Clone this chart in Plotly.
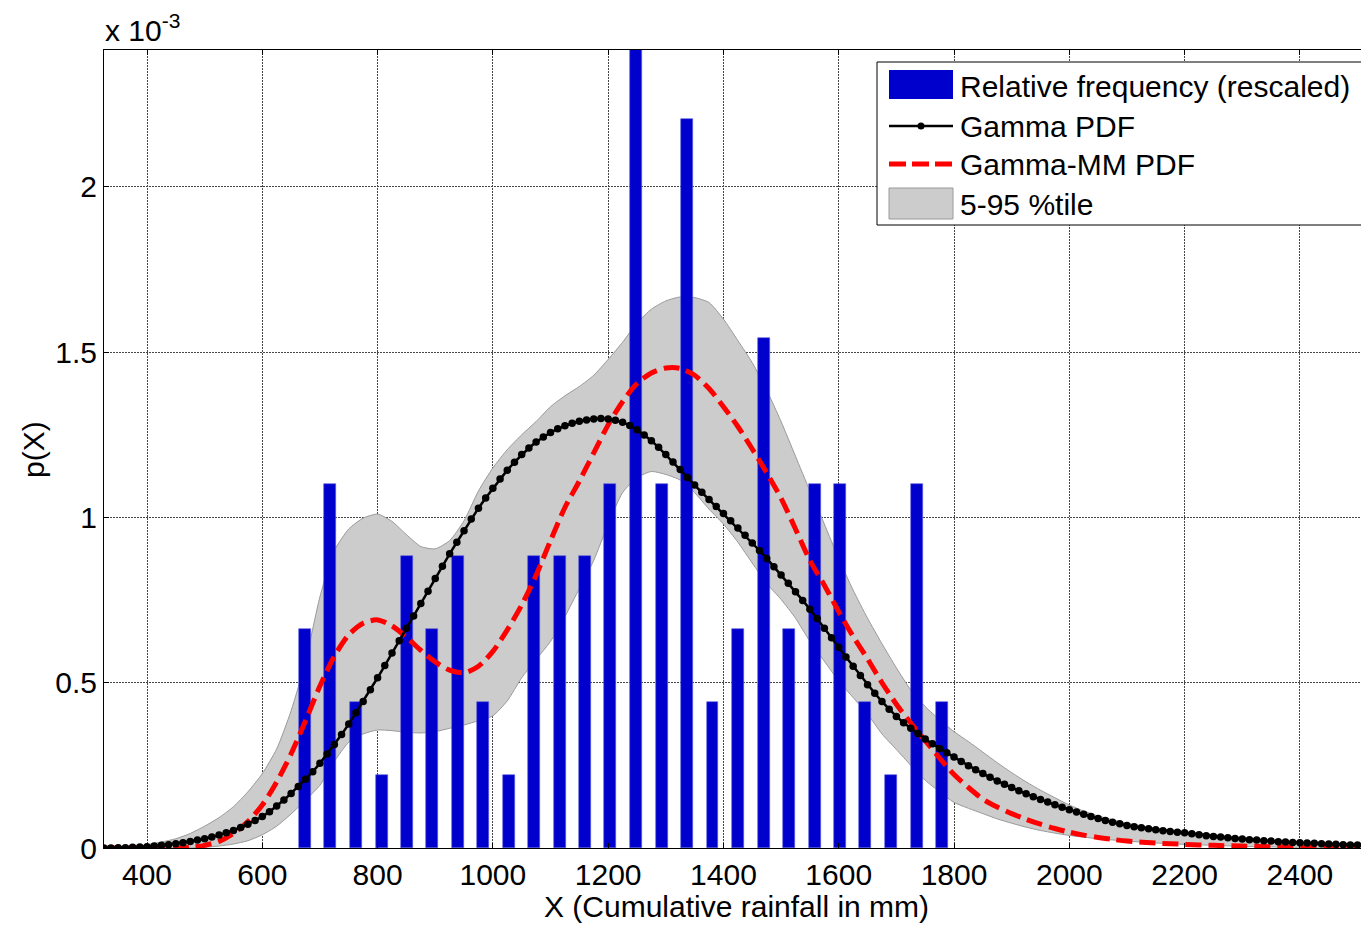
import plotly.graph_objects as go

# ---------------- data (values in units of 10^-3) ----------------
bar_x = [674, 718, 762, 807, 851, 895, 939, 983, 1028, 1072, 1116, 1160, 1204,
         1249, 1293, 1337, 1381, 1425, 1470, 1514, 1558, 1602, 1646, 1691, 1735, 1779]
bar_counts = [3, 5, 2, 1, 4, 3, 4, 2, 1, 4, 4, 4, 5, 11, 5, 10, 2, 3, 7, 3, 5, 5, 2, 1, 5, 2]
bar_unit = 0.2205  # rescaled relative frequency of one observation (x 10^-3)
bar_heights = [c * bar_unit for c in bar_counts]

gamma_x = [325 + 12.5 * i for i in range(175)]
gamma_y = [
    0.000, 0.000, 0.001, 0.001, 0.002, 0.003, 0.004, 0.006, 0.008, 0.010,
    0.013, 0.016, 0.020, 0.024, 0.028, 0.033, 0.039, 0.046, 0.053, 0.062,
    0.072, 0.083, 0.095, 0.110, 0.127, 0.145, 0.165, 0.186, 0.208, 0.231,
    0.256, 0.284, 0.313, 0.343, 0.375, 0.409, 0.443, 0.479, 0.515, 0.552,
    0.590, 0.627, 0.665, 0.702, 0.740, 0.777, 0.815, 0.852, 0.890, 0.925,
    0.960, 0.995, 1.028, 1.059, 1.088, 1.116, 1.143, 1.167, 1.190, 1.210,
    1.228, 1.243, 1.257, 1.268, 1.277, 1.285, 1.291, 1.295, 1.298, 1.299,
    1.298, 1.294, 1.288, 1.278, 1.265, 1.249, 1.232, 1.212, 1.190, 1.168,
    1.145, 1.121, 1.098, 1.076, 1.054, 1.033, 1.012, 0.990, 0.968, 0.946,
    0.923, 0.900, 0.876, 0.851, 0.826, 0.801, 0.775, 0.749, 0.722, 0.694,
    0.665, 0.636, 0.607, 0.578, 0.550, 0.522, 0.494, 0.468, 0.443, 0.420,
    0.398, 0.379, 0.362, 0.346, 0.330, 0.315, 0.301, 0.288, 0.275, 0.262,
    0.249, 0.237, 0.225, 0.214, 0.203, 0.193, 0.183, 0.173, 0.164, 0.155,
    0.147, 0.139, 0.131, 0.123, 0.116, 0.109, 0.102, 0.095, 0.089, 0.083,
    0.078, 0.073, 0.068, 0.064, 0.061, 0.058, 0.055, 0.052, 0.050, 0.048,
    0.046, 0.043, 0.040, 0.037, 0.035, 0.033, 0.031, 0.029, 0.027, 0.025,
    0.024, 0.022, 0.021, 0.019, 0.018, 0.017, 0.016, 0.015, 0.014, 0.013,
    0.012, 0.011, 0.010, 0.009, 0.009,
]

mm_x = [325, 350, 375, 400, 425, 450, 475, 500, 525, 550, 575, 600, 625, 650, 675,
        700, 725, 750, 775, 800, 825, 850, 875, 900, 925, 950, 975, 1000, 1025,
        1050, 1075, 1100, 1125, 1150, 1175, 1200, 1225, 1250, 1275, 1300, 1325,
        1350, 1375, 1400, 1425, 1450, 1475, 1500, 1525, 1550, 1575, 1600, 1625,
        1650, 1675, 1700, 1725, 1750, 1775, 1800, 1825, 1850, 1875, 1900, 1925,
        1950, 1975, 2000, 2025, 2050, 2075, 2100, 2150, 2200, 2250, 2300, 2350,
        2400, 2450, 2500]
mm_y = [0.000, 0.000, 0.000, 0.000, 0.000, 0.000, 0.002, 0.008, 0.020, 0.044,
        0.080, 0.130, 0.200, 0.285, 0.385, 0.490, 0.580, 0.645, 0.680, 0.690,
        0.672, 0.638, 0.598, 0.563, 0.538, 0.530, 0.550, 0.595, 0.660, 0.735,
        0.825, 0.930, 1.030, 1.110, 1.195, 1.280, 1.350, 1.405, 1.437, 1.452,
        1.451, 1.430, 1.390, 1.335, 1.275, 1.207, 1.135, 1.058, 0.965, 0.870,
        0.795, 0.715, 0.640, 0.572, 0.500, 0.435, 0.378, 0.325, 0.272, 0.222,
        0.183, 0.148, 0.124, 0.104, 0.087, 0.072, 0.059, 0.048, 0.039, 0.032,
        0.026, 0.021, 0.015, 0.011, 0.008, 0.006, 0.004, 0.003, 0.002, 0.001]

p95_x = [325, 350, 375, 400, 425, 450, 475, 500, 525, 550, 575, 600, 625, 650, 675,
         700, 725, 750, 775, 800, 825, 850, 875, 900, 925, 950, 975, 1000, 1025,
         1050, 1075, 1100, 1125, 1150, 1175, 1200, 1225, 1250, 1275, 1300, 1325,
         1350, 1375, 1400, 1425, 1450, 1475, 1500, 1525, 1550, 1575, 1600, 1625,
         1650, 1675, 1700, 1725, 1750, 1775, 1800, 1825, 1850, 1875, 1900, 1925,
         1950, 1975, 2000, 2025, 2050, 2100, 2150, 2200, 2250, 2300, 2350, 2400,
         2450, 2500]
p95_y = [0.000, 0.000, 0.003, 0.010, 0.018, 0.028, 0.044, 0.066, 0.092, 0.125,
         0.170, 0.225, 0.300, 0.415, 0.565, 0.760, 0.900, 0.965, 0.998, 1.010,
         0.988, 0.948, 0.912, 0.905, 0.930, 0.990, 1.080, 1.150, 1.205, 1.250,
         1.290, 1.335, 1.368, 1.396, 1.430, 1.478, 1.530, 1.588, 1.630, 1.655,
         1.667, 1.665, 1.650, 1.600, 1.535, 1.468, 1.385, 1.290, 1.185, 1.080,
         0.980, 0.875, 0.780, 0.695, 0.618, 0.545, 0.478, 0.428, 0.388, 0.352,
         0.322, 0.290, 0.258, 0.228, 0.200, 0.175, 0.152, 0.130, 0.112, 0.097,
         0.075, 0.060, 0.049, 0.040, 0.031, 0.022, 0.016, 0.012, 0.009]

p05_x = [325, 450, 475, 500, 525, 550, 575, 600, 625, 650, 675, 700, 725, 750, 775,
         800, 825, 850, 875, 900, 925, 950, 975, 1000, 1025, 1050, 1075, 1100,
         1125, 1150, 1175, 1200, 1225, 1250, 1275, 1300, 1325, 1350, 1375, 1400,
         1425, 1450, 1475, 1500, 1525, 1550, 1575, 1600, 1625, 1650, 1675, 1700,
         1725, 1750, 1775, 1800, 1825, 1850, 1875, 1900, 1925, 1950, 1975, 2000,
         2050, 2100, 2150, 2200, 2250, 2300, 2400, 2500]
p05_y = [0.000, 0.000, 0.000, 0.002, 0.006, 0.012, 0.022, 0.040, 0.066, 0.103,
         0.145, 0.190, 0.262, 0.320, 0.345, 0.357, 0.355, 0.350, 0.348, 0.352,
         0.362, 0.372, 0.385, 0.400, 0.445, 0.515, 0.570, 0.625, 0.700, 0.785,
         0.870, 0.980, 1.075, 1.120, 1.139, 1.130, 1.113, 1.075, 1.025, 0.980,
         0.925, 0.862, 0.800, 0.752, 0.695, 0.625, 0.565, 0.505, 0.455, 0.405,
         0.345, 0.298, 0.250, 0.205, 0.170, 0.138, 0.120, 0.104, 0.088, 0.075,
         0.063, 0.053, 0.045, 0.038, 0.028, 0.021, 0.015, 0.011, 0.008, 0.005,
         0.002, 0.001]

x_ticks = [400, 600, 800, 1000, 1200, 1400, 1600, 1800, 2000, 2200, 2400]
y_ticks = [0, 0.5, 1, 1.5, 2]
y_ticktext = ["0", "0.5", "1", "1.5", "2"]

legend_labels = ["Relative frequency (rescaled)", "Gamma PDF", "Gamma-MM PDF", "5-95 %tile"]

# ---------------- styling ----------------
FONT = "Arial, Liberation Sans, sans-serif"
FS = 30
BLUE = "#0000CC"
GRAY = "#CCCCCC"
XR = [325.4, 2506]
YR = [0, 2.414]

fig = go.Figure()

# band on the base axes (drawn underneath everything else)
fig.add_trace(go.Scatter(
    x=p95_x + p05_x[::-1], y=p95_y + p05_y[::-1],
    fill="toself", fillcolor=GRAY, mode="lines",
    line=dict(color="#9a9a9a", width=1, shape="spline", smoothing=0.6),
    showlegend=False, hoverinfo="skip", xaxis="x", yaxis="y"))

# bars and curves on overlaying axes so they sit above the band
fig.add_trace(go.Bar(
    x=bar_x, y=bar_heights, width=20.8,
    marker=dict(color=BLUE, line=dict(color="#5a5ae0", width=0.6)),
    showlegend=False, xaxis="x2", yaxis="y2"))

fig.add_trace(go.Scatter(
    x=mm_x, y=mm_y, mode="lines",
    line=dict(color="#FF0000", width=5, dash="16px,7px", shape="spline", smoothing=0.8),
    showlegend=False, xaxis="x2", yaxis="y2"))

fig.add_trace(go.Scatter(
    x=gamma_x, y=gamma_y, mode="lines+markers",
    line=dict(color="black", width=2.5),
    marker=dict(color="black", size=7.5, line=dict(width=0)),
    showlegend=False, xaxis="x2", yaxis="y2"))

# ---------------- layout ----------------
L, R, T, B = 104, 0, 50, 77
W, H = 1361, 925
pw, ph = W - L - R, H - T - B

def px_x(px):
    return (px - L) / pw

def px_y(py):
    return (H - B - py) / ph

grid = dict(showgrid=True, gridcolor="#474747", gridwidth=1, griddash="2px,1px")

fig.update_layout(
    width=W, height=H,
    margin=dict(l=L, r=R, t=T, b=B, pad=0),
    paper_bgcolor="white", plot_bgcolor="white",
    font=dict(family=FONT, size=FS, color="black"),
    bargap=0,
    xaxis=dict(range=XR, tickvals=x_ticks, ticks="inside", ticklen=5,
               tickcolor="black", showline=True, linecolor="black", linewidth=1,
               zeroline=False, tickfont=dict(size=FS), **grid),
    xaxis2=dict(range=XR, overlaying="x", side="top", tickvals=x_ticks,
                ticks="inside", ticklen=5, tickcolor="black", showticklabels=False,
                showgrid=False, zeroline=False, showline=True, linecolor="black",
                linewidth=1),
    yaxis=dict(range=YR, tickvals=y_ticks, ticktext=y_ticktext, ticks="inside",
               ticklen=5, tickcolor="black", showline=True, linecolor="black",
               linewidth=1, zeroline=False, tickfont=dict(size=FS), **grid),
    yaxis2=dict(range=YR, overlaying="y", side="right", showticklabels=False,
                ticks="", showgrid=False, zeroline=False, showline=False),
)

# axis titles / exponent label
fig.add_annotation(text="X (Cumulative rainfall in mm)", xref="paper", yref="paper",
                   x=px_x(736), y=px_y(907), showarrow=False,
                   xanchor="center", yanchor="middle", font=dict(size=FS))
fig.add_annotation(text="p(X)", xref="paper", yref="paper", x=px_x(33), y=px_y(450),
                   showarrow=False, textangle=-90, xanchor="center", yanchor="middle",
                   font=dict(size=FS))
fig.add_annotation(text="x 10<sup>-3</sup>", xref="paper", yref="paper",
                   x=px_x(103), y=px_y(28), showarrow=False, xanchor="left",
                   yanchor="middle", font=dict(size=FS))

# ---------------- legend (drawn manually) ----------------
shapes = []
shapes.append(dict(type="rect", xref="paper", yref="paper", x0=px_x(877), x1=px_x(1370),
                   y0=px_y(225), y1=px_y(62), fillcolor="white",
                   line=dict(color="black", width=1), layer="above"))
shapes.append(dict(type="rect", xref="paper", yref="paper", x0=px_x(889), x1=px_x(953),
                   y0=px_y(99), y1=px_y(70), fillcolor=BLUE, line=dict(width=0),
                   layer="above"))
shapes.append(dict(type="line", xref="paper", yref="paper", x0=px_x(889), x1=px_x(953),
                   y0=px_y(126), y1=px_y(126), line=dict(color="black", width=2.5),
                   layer="above"))
shapes.append(dict(type="circle", xref="paper", yref="paper", x0=px_x(917.5),
                   x1=px_x(924.5), y0=px_y(129.5), y1=px_y(122.5), fillcolor="black",
                   line=dict(width=0), layer="above"))
shapes.append(dict(type="line", xref="paper", yref="paper", x0=px_x(889), x1=px_x(953),
                   y0=px_y(164), y1=px_y(164),
                   line=dict(color="#FF0000", width=5, dash="17px,6px"), layer="above"))
shapes.append(dict(type="rect", xref="paper", yref="paper", x0=px_x(889), x1=px_x(953),
                   y0=px_y(219), y1=px_y(188), fillcolor=GRAY,
                   line=dict(color="#9a9a9a", width=1), layer="above"))
fig.update_layout(shapes=shapes)

for lab, py in zip(legend_labels, [87, 126, 164, 204]):
    fig.add_annotation(text=lab, xref="paper", yref="paper", x=px_x(958), y=px_y(py),
                       showarrow=False, xanchor="left", yanchor="middle",
                       font=dict(size=FS))

fig.write_html("out.html")
